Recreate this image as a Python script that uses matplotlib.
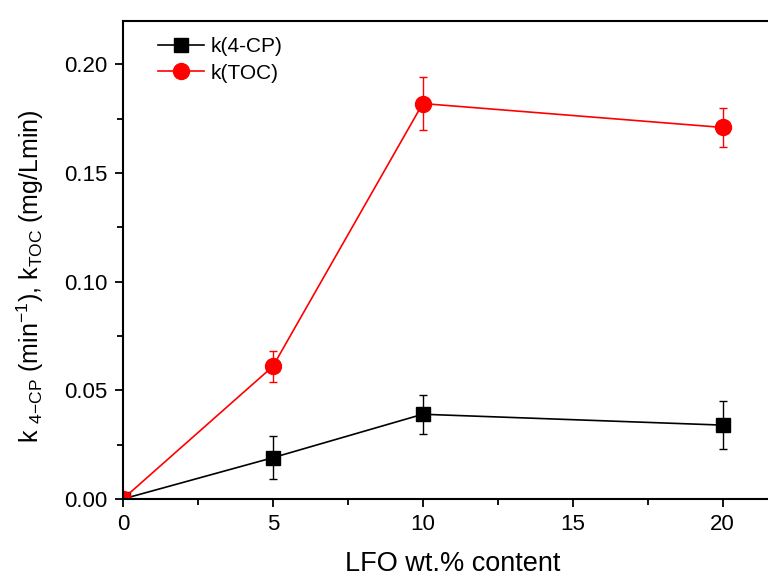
import matplotlib
matplotlib.use("Agg")
import matplotlib.pyplot as plt
from matplotlib.ticker import MultipleLocator, FormatStrFormatter

plt.rcParams['font.family'] = ['Liberation Sans', 'DejaVu Sans']
plt.rcParams['mathtext.fontset'] = 'custom'
plt.rcParams['mathtext.rm'] = 'Liberation Sans'
plt.rcParams['mathtext.it'] = 'Liberation Sans'

# data
lfo_content = [0, 5, 10, 20]
k_4cp = [0.0, 0.019, 0.039, 0.034]
k_4cp_err = [0.0, 0.010, 0.009, 0.011]
k_toc = [0.0, 0.061, 0.182, 0.171]
k_toc_err = [0.0, 0.007, 0.012, 0.009]

fig = plt.figure(figsize=(7.68, 5.78), dpi=100)
ax = fig.add_axes([0.160, 0.1367, 0.859, 0.827])

ax.errorbar(lfo_content, k_4cp, yerr=k_4cp_err, color='black', marker='s',
            markersize=10, linewidth=1.2, elinewidth=1, capsize=3,
            label='k(4-CP)')
ax.errorbar(lfo_content, k_toc, yerr=k_toc_err, color='red', marker='o',
            markersize=11.5, linewidth=1.2, elinewidth=1, capsize=3,
            label='k(TOC)')

ax.set_xlim(0, 22)
ax.set_ylim(0, 0.22)
ax.xaxis.set_major_locator(MultipleLocator(5))
ax.xaxis.set_minor_locator(MultipleLocator(2.5))
ax.yaxis.set_major_locator(MultipleLocator(0.05))
ax.yaxis.set_minor_locator(MultipleLocator(0.025))
ax.yaxis.set_major_formatter(FormatStrFormatter('%.2f'))

ax.tick_params(which='major', direction='out', length=6, width=1.3,
               labelsize=16, pad=5)
ax.tick_params(which='minor', direction='out', length=4, width=1.3)
for s in ax.spines.values():
    s.set_linewidth(1.5)

ax.set_xlabel('LFO wt.% content', fontsize=19.5)
ax.xaxis.set_label_coords(0.5, -0.108)
ax.set_ylabel(r'k $_{4\mathrm{-CP}}$ (min$^{-1}$), k$_{\mathrm{TOC}}$ (mg/Lmin)',
              fontsize=18)
ax.yaxis.set_label_coords(-0.116, 0.4665)

handles, labels = ax.get_legend_handles_labels()
handles = [h[0] for h in handles]
ax.legend(handles, labels, loc='upper left', frameon=False, fontsize=15,
          bbox_to_anchor=(0.025, 1.005), handlelength=2.2, handletextpad=0.3,
          labelspacing=0.35)

fig.savefig('out.png', dpi=100)
